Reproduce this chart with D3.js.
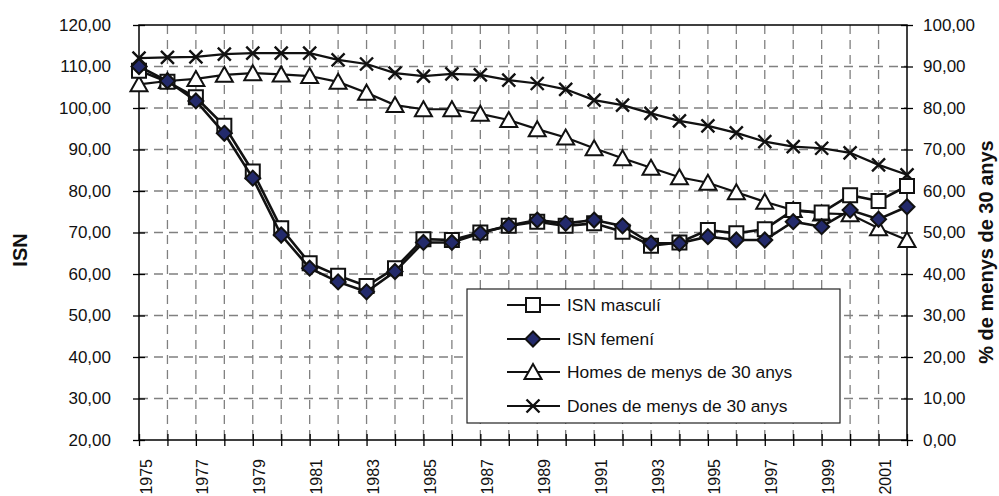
<!DOCTYPE html>
<html>
<head>
<meta charset="utf-8">
<script src="https://cdn.jsdelivr.net/npm/d3@7"></script>
<style>
  body { margin: 0; background: #fff; }
  svg { display: block; font-family: Arial, "Liberation Sans", sans-serif; }
</style>
</head>
<body>
<div id="chart"></div>
<script>
// dades llegides del gràfic
const years = d3.range(1975, 2003);
const isnMasculi = [109.0, 106.3, 102.6, 95.7, 84.7, 71.0, 62.6, 59.6, 57.1, 61.4,
  68.4, 68.2, 70.0, 71.6, 72.6, 71.6, 72.2, 70.2, 66.8, 67.6,
  70.6, 69.8, 70.8, 75.4, 74.8, 79.0, 77.6, 81.2];
const isnFemeni = [110.0, 106.5, 101.7, 93.9, 83.1, 69.4, 61.4, 58.1, 55.7, 60.6,
  67.6, 67.6, 69.8, 71.7, 73.0, 72.2, 73.0, 71.6, 67.4, 67.4,
  69.0, 68.2, 68.2, 72.6, 71.4, 75.4, 73.2, 76.2];
const homes30 = [85.7, 86.5, 87.0, 88.0, 88.4, 88.1, 87.7, 86.3, 83.7, 80.7,
  79.7, 79.7, 78.6, 77.1, 74.9, 72.9, 70.3, 67.9, 65.6, 63.3,
  62.0, 59.7, 57.4, 55.4, 54.6, 54.4, 51.0, 48.2];
const dones30 = [92.0, 92.2, 92.3, 93.0, 93.2, 93.2, 93.2, 91.6, 90.6, 88.4,
  87.7, 88.2, 88.0, 86.7, 85.9, 84.5, 81.9, 80.7, 78.7, 76.9,
  75.7, 74.0, 71.9, 70.7, 70.3, 69.2, 66.3, 63.9];
const leftTicks = d3.range(20, 121, 10);
const rightTicks = d3.range(0, 101, 10);
const labelYears = years.filter(y => y % 2 === 1);
const seriesNames = ["ISN masculí", "ISN femení", "Homes de menys de 30 anys", "Dones de menys de 30 anys"];

const width = 999, height = 496;
const margin = { top: 25, right: 92, bottom: 56, left: 139 };
const fmt = v => d3.format(".2f")(v).replace(".", ",");
const ink = "#111";

const svg = d3.select("#chart").append("svg")
    .attr("width", width)
    .attr("height", height);

const x = d3.scaleLinear()
    .domain([1975, 2002])
    .range([margin.left, width - margin.right]);
const yL = d3.scaleLinear()
    .domain([20, 120])
    .range([height - margin.bottom, margin.top]);
const yR = d3.scaleLinear()
    .domain([0, 100])
    .range([height - margin.bottom, margin.top]);

const x0 = margin.left, x1 = width - margin.right;
const y0 = height - margin.bottom, y1 = margin.top;

// graella discontínua
svg.append("g")
    .attr("stroke", "#808080")
    .attr("stroke-width", 1.3)
    .attr("stroke-dasharray", "9,6")
    .selectAll("line.h")
    .data(leftTicks.slice(1, -1))
    .join("line")
    .attr("x1", x0).attr("x2", x1)
    .attr("y1", d => yL(d)).attr("y2", d => yL(d));
svg.append("g")
    .attr("stroke", "#808080")
    .attr("stroke-width", 1.3)
    .attr("stroke-dasharray", "9,6")
    .selectAll("line.v")
    .data(years.slice(1, -1))
    .join("line")
    .attr("x1", d => x(d)).attr("x2", d => x(d))
    .attr("y1", y1).attr("y2", y0);

// eixos
const axL = svg.append("g")
    .attr("transform", `translate(${x0},0)`)
    .call(d3.axisLeft(yL).tickValues(leftTicks).tickFormat(fmt).tickSize(6).tickPadding(22));
const axR = svg.append("g")
    .attr("transform", `translate(${x1},0)`)
    .call(d3.axisRight(yR).tickValues(rightTicks).tickFormat(fmt).tickSize(6).tickPadding(10));
const axB = svg.append("g")
    .attr("transform", `translate(0,${y0})`)
    .call(d3.axisBottom(x).tickValues(years).tickFormat("").tickSize(6));

[axL, axR, axB].forEach(g => {
  g.select(".domain").remove();
  g.selectAll("line").attr("stroke", "#000").attr("stroke-width", 1.3);
  g.selectAll("text").attr("font-size", 17).attr("fill", ink);
});
// marques que creuen l'eix
axL.selectAll(".tick line").attr("x1", 6);
axR.selectAll(".tick line").attr("x1", -6);
axB.selectAll(".tick line").attr("y1", -6);

svg.append("rect")
    .attr("x", x0).attr("y", y1)
    .attr("width", x1 - x0).attr("height", y0 - y1)
    .attr("fill", "none").attr("stroke", "#000").attr("stroke-width", 1.5);

// etiquetes d'anys girades
svg.append("g")
    .selectAll("text")
    .data(labelYears)
    .join("text")
    .attr("transform", d => `translate(${x(d) + 12.5},${y0 + 19}) rotate(-90)`)
    .attr("text-anchor", "end")
    .attr("font-size", 16)
    .attr("fill", ink)
    .text(d => d);

svg.append("text")
    .attr("transform", `translate(27,250) rotate(-90)`)
    .attr("text-anchor", "middle")
    .attr("font-size", 20).attr("font-weight", "bold").attr("fill", ink)
    .text("ISN");
svg.append("text")
    .attr("transform", `translate(993,252) rotate(-90)`)
    .attr("text-anchor", "middle")
    .attr("font-size", 20).attr("font-weight", "bold").attr("fill", ink)
    .text("% de menys de 30 anys");

// marcadors
const markerPath = {
  square: "M-7,-7H7V7H-7Z",
  diamond: "M0,-7.5L7.5,0L0,7.5L-7.5,0Z",
  triangle: "M0,-8L8.5,7H-8.5Z",
  cross: "M-6.5,-6.5L6.5,6.5M6.5,-6.5L-6.5,6.5"
};
const series = [
  { name: seriesNames[0], values: isnMasculi, y: yL, marker: "square", fill: "#fff" },
  { name: seriesNames[1], values: isnFemeni, y: yL, marker: "diamond", fill: "#232a6b" },
  { name: seriesNames[2], values: homes30, y: yR, marker: "triangle", fill: "#fff" },
  { name: seriesNames[3], values: dones30, y: yR, marker: "cross", fill: "none" }
];

const drawMarker = (g, s) => {
  g.append("path")
      .attr("d", markerPath[s.marker])
      .attr("fill", s.fill)
      .attr("stroke", ink)
      .attr("stroke-width", s.marker === "cross" ? 2.4 : 2);
};

// ordre de dibuix: primer els percentatges
[series[3], series[2], series[0], series[1]].forEach(s => {
  const line = d3.line()
      .x((d, i) => x(years[i]))
      .y(d => s.y(d));
  svg.append("path")
      .datum(s.values)
      .attr("fill", "none")
      .attr("stroke", ink)
      .attr("stroke-width", s.y === yL ? 2.6 : 2.2)
      .attr("d", line);
  svg.append("g")
      .selectAll("g")
      .data(s.values)
      .join("g")
      .attr("transform", (d, i) => `translate(${x(years[i])},${s.y(d)})`)
      .each(function () { drawMarker(d3.select(this), s); });
});

// llegenda
const legend = svg.append("g");
legend.append("rect")
    .attr("x", 467).attr("y", 289)
    .attr("width", 373).attr("height", 134)
    .attr("fill", "#fff").attr("stroke", "#222").attr("stroke-width", 1.2);
const rowY = [305, 339, 372, 406];
series.forEach((s, i) => {
  const g = legend.append("g").attr("transform", `translate(0,${rowY[i]})`);
  g.append("line")
      .attr("x1", 507).attr("x2", 560)
      .attr("stroke", ink).attr("stroke-width", 2);
  const m = g.append("g").attr("transform", "translate(533,0)");
  drawMarker(m, s);
  g.append("text")
      .attr("x", 567).attr("y", 6)
      .attr("font-size", 17.4).attr("fill", ink)
      .text(s.name);
});
</script>
</body>
</html>
